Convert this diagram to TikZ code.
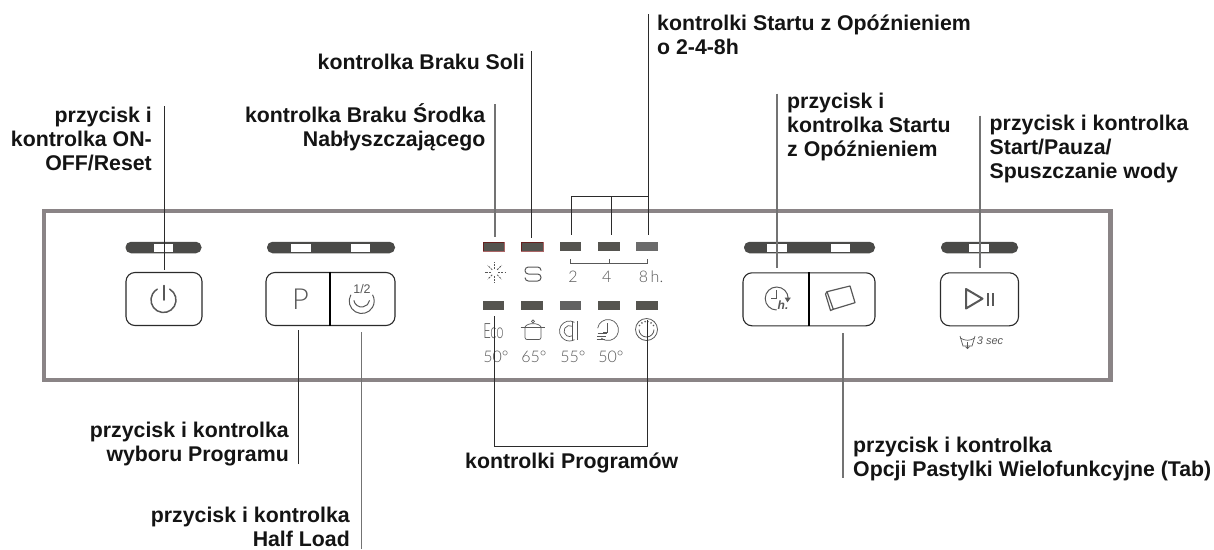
\documentclass[tikz,border=0pt]{standalone}
\usepackage{fontspec}
\setmainfont{Liberation Sans}
\newfontfamily\thinf{Lato}[UprightFont=* Light]
\definecolor{dark}{HTML}{2B2B2B}
\definecolor{panel}{HTML}{8A8486}
\definecolor{bar}{HTML}{4A4A48}
\definecolor{led}{HTML}{55544F}
\definecolor{icon}{HTML}{585858}
\newcommand{\lnh}{\rule{0pt}{20pt}}
\tikzset{
  lab/.style={inner sep=0pt,font=\fontsize{21.3}{24}\selectfont\bfseries,text=black!92},
  labr/.style={lab,align=right,anchor=north east},
  labl/.style={lab,align=left,anchor=north west},
  conn/.style={draw=dark,line width=1pt},
  connG/.style={draw=black!55,line width=1.2pt},
  btn/.style={draw=dark,line width=1.1pt,rounded corners=9pt,minimum height=53pt,inner sep=0pt,fill=white},
  barn/.style={fill=bar,rounded corners=5.5pt,minimum height=11.5pt,inner sep=0pt},
  win/.style={fill=white,minimum width=19.5pt,minimum height=8pt,inner sep=0pt},
  ledn/.style={fill=led,minimum width=21.5pt,minimum height=9pt,inner sep=0pt},
  ico/.style={draw=icon,line width=.9pt},
  ctext/.style={inner sep=0pt,text=icon,font=\thinf\fontsize{16}{16}\selectfont},
}
\begin{document}
\begin{tikzpicture}[x=1pt,y=-1pt]
\useasboundingbox (0,0) rectangle (1214,549);
\fill[white] (0,0) rectangle (1214,549);
% panel
\node[draw=panel,line width=4.5pt,minimum width=1066.5pt,minimum height=169pt,inner sep=0pt,outer sep=0pt] (frame) at (577.3,295.5) {};
% bars
\node[barn,minimum width=76pt] (bar1) at (163.5,247.5) {};
\node[barn,minimum width=128pt] (bar2) at (331,247.5) {};
\node[barn,minimum width=131pt] (bar3) at (809.5,247.5) {};
\node[barn,minimum width=77pt] (bar4) at (979.5,247.5) {};
\node[win] (w1) at (163.5,248) {};
\node[win] (w2) at (301,248) {};
\node[win] (w3) at (360.5,248) {};
\node[win] (w4) at (777,248) {};
\node[win] (w5) at (840.5,248) {};
\node[win,minimum width=20pt] (w6) at (979.3,248) {};
% buttons
\node[btn,minimum width=76pt] (b1) at (164,299) {};
\node[btn,minimum width=129pt] (b2) at (330.5,299) {};
\node[btn,minimum width=132pt] (b3) at (809,299.3) {};
\node[btn,minimum width=78pt] (b4) at (979.5,299.3) {};
\draw[draw=black,line width=1.3pt] (b2.north) ++(-.5,0) coordinate (d2t) -- (d2t |- b2.south);
\draw[draw=black,line width=1.3pt] (b3.north) coordinate (d3t) -- (d3t |- b3.south);
% LEDs
\node[ledn] (l1) at (493.7,246.5) {};
\node[ledn] (l2) at (532.2,246.5) {};
\node[ledn] (l3) at (570.3,246.5) {};
\node[ledn] (l4) at (609,246.5) {};
\node[ledn,fill=black!58] (l5) at (646.8,246.5) {};
\node[ledn] (m1) at (493.7,305.2) {};
\node[ledn] (m2) at (532.2,305.2) {};
\node[ledn,fill=black!62] (m3) at (570.3,305.2) {};
\node[ledn] (m4) at (609,305.2) {};
\node[ledn] (m5) at (646.8,305.2) {};
\draw[draw=red!45!black,draw opacity=.6,line width=.4pt] (l1.south west) rectangle (l1.north east);
\draw[draw=red!45!black,draw opacity=.6,line width=.4pt] (l2.south west) rectangle (l2.north east);
% power icon
\draw[ico,line width=1.5pt,line cap=round] (163.5,300) ++(-60:12.5) arc[start angle=-60,end angle=240,radius=12.5];
\draw[ico,line width=1.5pt,line cap=round] (164,285.5) -- (164,300);
% P
\node[inner sep=0pt,text=icon,font=\thinf\fontsize{29}{29}\selectfont] (pi) at (300.5,299) {P};
% half
\draw[ico,line width=1pt] (361.7,301) ++(210:12.5) arc[start angle=210,end angle=-30,radius=12.5];
\draw[ico,line width=1pt] (361.7,299) ++(170:8) arc[start angle=170,end angle=10,radius=8];
\node[ctext,text=icon,font=\fontsize{12.5}{12.5}\selectfont] (hf) at (362,289.5) {1/2};
% delay icon
\draw[ico,line width=1pt] (776.7,298.5) ++(90:11.5) arc[start angle=90,end angle=360,radius=11.5];
\draw[ico,line width=1pt] (776.7,290) -- (776.7,298) -- (770.7,298);
\draw[ico,fill=icon] (785.5,298) -- (790,298) -- (787.5,301.5) -- cycle;
\node[ctext,font=\itshape\bfseries\fontsize{12}{12}\selectfont] (hd) at (783,305.5) {h.};
% tab icon
\draw[ico,line width=1.2pt,line join=round] (827,291.7) -- (850,286) -- (855,302.7) -- (833.3,309.3) -- cycle;
\draw[ico,line width=1.2pt,line join=round] (827,291.7) -- (825.5,294) -- (830.5,310.5) -- (833.3,309.3);
% play-pause icon
\draw[icon,line width=2pt,line join=round] (966,289) -- (966,308.5) -- (982.5,298.7) -- cycle;
\draw[icon,line width=2pt] (988,293) -- (988,305.5) (993,293) -- (993,305.5);
% water icon
\draw[ico,line width=.7pt] (960,336) -- (963,346) -- (972,346) -- (975,336);
\draw[ico,line width=.7pt] (960.5,338) .. controls (964,341) and (971,341) .. (974.5,338);
\draw[ico,line width=.7pt] (967.5,342) -- (967.5,348.5) (965.5,346.5) -- (967.5,348.7) -- (969.5,346.5);
\node[ctext,font=\itshape\fontsize{11}{11}\selectfont] (sec) at (990,340.5) {3 sec};
% sparkle icon
\foreach \a in {0,45,...,315}{\draw[ico,line width=.8pt,dashed,dash pattern=on 2pt off 1.2pt] (494.7,272.3)++(\a:3.5) -- ++(\a:6.5);}
% salt icon
\draw[ico,line width=1pt,rounded corners=3.4pt] (541,270.5) -- (541,267) -- (525,267) -- (525,274) -- (541,274) -- (541,281) -- (525,281) -- (525,277.5);
% bracket and numbers
\node[ctext] (n2) at (573,276.5) {2};
\node[ctext] (n4) at (606.7,276.5) {4};
\node[ctext] (n8) at (651,276.5) {8\,h.};
\coordinate (ba) at (570.5,259);
\coordinate (bb) at (609,259);
\coordinate (bc) at (647.5,259);
\draw[ico,line width=.8pt] (ba) -- ++(0,4) -| (bc);
\draw[ico,line width=.8pt] (bb) -- ++(0,4);
% program icons
\node[ctext,font=\thinf\fontsize{21}{21}\selectfont] (eco) at (493.5,331) {\addfontfeature{FakeStretch=.62}Eco};
\draw[ico,line width=.7pt,rounded corners=2pt] (525,327) -- (525,339.5) -- (541,339.5) -- (541,327);
\draw[ico,line width=.7pt] (520.7,327) -- (545,327);
\draw[ico,line width=.7pt] (525,327) .. controls (527,322.5) and (539,322.5) .. (541,327);
\draw[ico,line width=.7pt] (533,321.3) circle (1.5);
\draw[ico,line width=.7pt] (569.5,331) ++(-60:10) arc[start angle=-60,end angle=-300,radius=10];
\draw[ico,line width=.7pt] (569.5,331) ++(-60:5.5) arc[start angle=-60,end angle=-300,radius=5.5];
\draw[ico,line width=.9pt] (572.5,321) -- (572.5,340) (577,321) -- (577,340);
\draw[ico,line width=.7pt] (608,330) ++(-170:10.5) arc[start angle=-170,end angle=130,radius=10.5];
\draw[ico,line width=.7pt] (607,323) -- (607,332) -- (603,332);
\draw[ico,line width=.8pt] (597.5,333.5) -- (607,333.5) (597,336.5) -- (606,336.5) (596.5,339.5) -- (605,339.5);
\draw[ico,line width=.8pt] (646.5,329.5) circle (11);
\draw[ico,line width=.8pt] (646.5,329.5) ++(0:7.5) arc[start angle=0,end angle=180,radius=7.5];
\foreach \a in {-100,-125,-150,-30,-55,-80}{\fill[icon] (646.5,329.5)++(\a:8) circle (.9);}
% degrees
\node[ctext] (t1) at (496,356.5) {50°};
\node[ctext] (t2) at (534,356.5) {65°};
\node[ctext] (t3) at (573,356.5) {55°};
\node[ctext] (t4) at (611,356.5) {50°};
% labels
\node[labr] (t-on) at (152,102.7) {\lnh przycisk i\\kontrolka ON-\\OFF/Reset};
\node[labr] (t-rinse) at (485.5,102.5) {\lnh kontrolka Braku Środka\\Nabłyszczającego};
\node[labr] (t-salt) at (525,49) {\lnh kontrolka Braku Soli};
\node[labl] (t-del) at (657,9.8) {\lnh kontrolki Startu z Opóźnieniem\\o 2-4-8h};
\node[labl] (t-dl) at (787,88.5) {\lnh przycisk i\\kontrolka Startu\\z Opóźnieniem};
\node[labl] (t-st) at (989.5,110) {\lnh przycisk i kontrolka\\Start/Pauza/\\Spuszczanie wody};
\node[labr] (t-p) at (289,417.7) {\lnh przycisk i kontrolka\\wyboru Programu};
\node[labr] (t-h) at (350,502) {\lnh przycisk i kontrolka\\Half Load};
\node[labl] (t-pg) at (465,448.5) {\lnh kontrolki Programów};
\node[labl] (t-tab) at (853,432.7) {\lnh przycisk i kontrolka\\Opcji Pastylki Wielofunkcyjne (Tab)};
% connector ends
\coordinate (c-on) at (164,106);
\coordinate (e-on) at (164,270);
\coordinate (c-rinse) at (495,104);
\coordinate (e-rinse) at (495,237);
\coordinate (c-salt) at (531,51);
\coordinate (e-salt) at (531,238);
\coordinate (c-top) at (648,14);
\coordinate (c-j) at (648,196.5);
\coordinate (e-3) at (571,235);
\coordinate (e-4) at (611,235);
\coordinate (e-5) at (648,235);
\coordinate (c-dl) at (777,93.5);
\coordinate (e-dl) at (777,268);
\coordinate (c-st) at (980,115.5);
\coordinate (e-st) at (980,268);
\coordinate (c-p) at (298.5,464);
\coordinate (e-p) at (298.5,330);
\coordinate (c-h) at (361.7,549);
\coordinate (e-h) at (361.7,332);
\coordinate (c-tab) at (843,477.5);
\coordinate (e-tab) at (843,333);
\coordinate (pa) at (494.5,316);
\coordinate (pb) at (647.3,320);
\coordinate (pc) at (494.5,446.3);
% connectors
\draw[conn] (c-on) -- (e-on);
\draw[connG] (c-rinse) -- (e-rinse);
\draw[conn] (c-salt) -- (e-salt);
\draw[conn] (c-top) -- (e-5);
\draw[conn] (c-j) -| (e-3);
\draw[conn] (e-4 |- c-j) -- (e-4);
\draw[connG] (c-dl) -- (e-dl);
\draw[connG] (c-st) -- (e-st);
\draw[conn] (c-p) -- (e-p);
\draw[connG] (c-h) -- (e-h);
\draw[connG] (c-tab) -- (e-tab);
\draw[conn] (pa) |- (pb |- pc) -- (pb);
\end{tikzpicture}
\end{document}
